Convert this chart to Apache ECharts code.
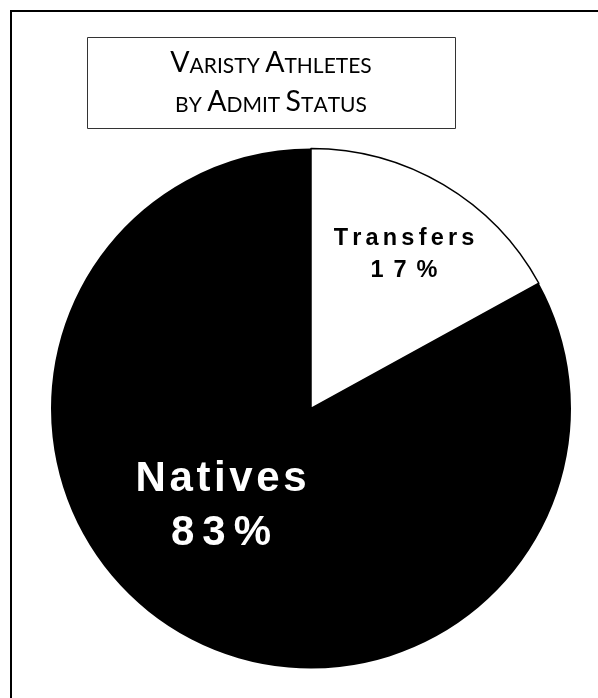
<!DOCTYPE html>
<html>
<head>
<meta charset="utf-8">
<script src="https://cdn.jsdelivr.net/npm/echarts@6/dist/echarts.min.js"></script>
<style>
html,body{margin:0;padding:0;background:#fff;}
#c{width:598px;height:698px;}
</style>
</head>
<body>
<div id="c"></div>
<script>
const titleLines = ['Varisty Athletes', 'by Admit Status'];
const categories = ['Transfers', 'Natives'];
const values = [17, 83];
const percentLabels = ['17%', '83%'];

// small caps rich text builder
function smallCaps(line) {
  return line.split(' ').map(function (w) {
    let out = '';
    for (let i = 0; i < w.length; i++) {
      const ch = w[i];
      if (ch === ch.toUpperCase() && /[A-Za-z]/.test(ch)) out += '{b|' + ch + '}';
      else out += '{s|' + ch.toUpperCase() + '}';
    }
    return out;
  }).join('{s| }');
}
function spaced(str, style) {
  return str.split('').map(function (ch) { return '{' + style + '|' + ch + '}'; }).join('');
}

const chart = echarts.init(document.getElementById('c'), null, {renderer: 'canvas'});
const labelPos = [{x: 404, y: 254.5}, {x: 221, y: 506}];

chart.setOption({
  backgroundColor: '#fff',
  animation: false,
  graphic: [
    {type: 'rect', shape: {x: 11, y: 11, width: 700, height: 800},
     style: {fill: 'none', stroke: '#000', lineWidth: 2}, z: 10},
    {type: 'rect', shape: {x: 87.5, y: 37.5, width: 368, height: 91},
     style: {fill: '#fff', stroke: '#333', lineWidth: 1}, z: 10},
    {type: 'text', x: 271, y: 77, z: 11,
     style: {
       text: titleLines.map(smallCaps).join('\n'),
       align: 'center', verticalAlign: 'middle',
       fill: '#000',
       rich: {
         b: {fontFamily: 'Lato', fontSize: 28.5, fill: '#000', lineHeight: 39, verticalAlign: 'bottom'},
         s: {fontFamily: 'Lato', fontSize: 21, fill: '#000', lineHeight: 39, verticalAlign: 'bottom'}
       }
     }}
  ],
  series: [{
    type: 'pie',
    center: [311, 408.5],
    radius: [0, 260],
    startAngle: 90,
    clockwise: true,
    silent: true,
    data: categories.map(function (c, i) {
      return {
        name: c, value: values[i],
        itemStyle: i === 0 ? {color: '#fff', borderColor: '#000', borderWidth: 1.5}
                           : {color: '#000', borderWidth: 0}
      };
    }),
    label: {
      show: true,
      position: 'inside',
      align: 'center',
      verticalAlign: 'middle',
      formatter: function (p) {
        const i = p.dataIndex;
        return spaced(p.name, i === 0 ? 'tn' : 'nn') + '\n' + spaced(percentLabels[i], i === 0 ? 'tv' : 'nv');
      },
      rich: {
        tn: {fontFamily: 'Liberation Sans', fontWeight: 'bold', fontSize: 23.5, color: '#000', padding: [0, 2.1], lineHeight: 32},
        tv: {fontFamily: 'Liberation Sans', fontWeight: 'bold', fontSize: 23.5, color: '#000', padding: [0, 5], lineHeight: 32},
        nn: {fontFamily: 'Liberation Sans', fontWeight: 'bold', fontSize: 42, color: '#fff', padding: [0, 1.8], lineHeight: 54},
        nv: {fontFamily: 'Liberation Sans', fontWeight: 'bold', fontSize: 42, color: '#fff', padding: [0, 4], lineHeight: 54}
      }
    },
    labelLine: {show: false},
    labelLayout: function (p) { return {x: labelPos[p.dataIndex].x, y: labelPos[p.dataIndex].y, align: 'center', verticalAlign: 'middle'}; }
  }]
});
</script>
</body>
</html>
